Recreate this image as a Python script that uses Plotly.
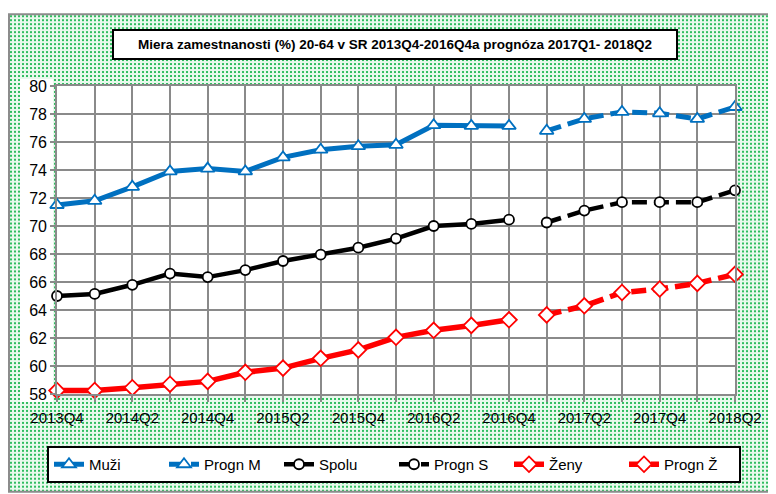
import base64
import plotly.graph_objects as go

# ---------------- data ----------------
quarters = ["2013Q4",
            "2014Q1", "2014Q2", "2014Q3", "2014Q4",
            "2015Q1", "2015Q2", "2015Q3", "2015Q4",
            "2016Q1", "2016Q2", "2016Q3", "2016Q4",
            "2017Q1", "2017Q2", "2017Q3", "2017Q4",
            "2018Q1", "2018Q2"]
hist_q = quarters[:13]
prog_q = quarters[13:]

muzi = [71.5, 71.8, 72.8, 73.9, 74.1, 73.9, 74.9, 75.45, 75.7, 75.8, 77.2, 77.15, 77.15]
progn_m = [76.8, 77.65, 78.15, 78.05, 77.65, 78.5]
spolu = [65.0, 65.15, 65.8, 66.6, 66.35, 66.85, 67.5, 67.95, 68.45, 69.1, 70.0, 70.15, 70.45]
progn_s = [70.25, 71.1, 71.7, 71.7, 71.7, 72.55]
zeny = [58.25, 58.25, 58.45, 58.7, 58.9, 59.55, 59.85, 60.55, 61.15, 62.05, 62.55, 62.9, 63.3]
progn_z = [63.65, 64.3, 65.25, 65.5, 65.9, 66.55]

x_tick_labels = ["2013Q4", "2014Q2", "2014Q4", "2015Q2", "2015Q4",
                 "2016Q2", "2016Q4", "2017Q2", "2017Q4", "2018Q2"]
y_ticks = [58, 60, 62, 64, 66, 68, 70, 72, 74, 76, 78, 80]

title_text = "Miera zamestnanosti (%) 20-64 v SR 2013Q4-2016Q4a prognóza 2017Q1- 2018Q2"

# ---------------- style ----------------
# The page body has an 8px default margin, so the figure is 8px smaller
# on each axis and all page-pixel positions are offset by 8.
OFF = 8
W, H = 776 - OFF, 494 - OFF
PL, PR, PT, PB = 57, 735, 86, 395          # plot area in page pixels
FONT = "Liberation Sans, Arial, sans-serif"
BLUE, BLACK, RED = "#0070C0", "#000000", "#FF0000"
GRID = "#8a8a8a"


def px_x(p):
    return (p - PL) / (PR - PL)


def px_y(p):
    return (PB - p) / (PB - PT)


fig = go.Figure()

series = [
    ("Muži", hist_q, muzi, BLUE, "solid", "triangle-up", 12, 5),
    ("Progn M", prog_q, progn_m, BLUE, "15px,7px", "triangle-up", 12, 5),
    ("Spolu", hist_q, spolu, BLACK, "solid", "circle", 10, 4.5),
    ("Progn S", prog_q, progn_s, BLACK, "15px,7px", "circle", 10, 4.5),
    ("Ženy", hist_q, zeny, RED, "solid", "diamond", 12, 5.5),
    ("Progn Ž", prog_q, progn_z, RED, "15px,7px", "diamond", 12, 5.5),
]
for name, xs, ys, col, dash, sym, msize, lw in series:
    fig.add_trace(go.Scatter(
        x=xs, y=ys, name=name, mode="lines+markers",
        line=dict(color=col, width=lw, dash=dash),
        marker=dict(symbol=sym, size=msize, color="white",
                    line=dict(color=col, width=1.8)),
        cliponaxis=False,
    ))

# dotted green chart-area background (pattern as an inline SVG image)
bx0, by0, bx1, by1 = OFF + 1, 14, 775, 493
svg = (f"<svg xmlns='http://www.w3.org/2000/svg' width='{bx1-bx0}' height='{by1-by0}'>"
       "<defs><pattern id='p' width='4' height='4' patternUnits='userSpaceOnUse'>"
       "<rect width='4' height='4' fill='#e8f9ec'/>"
       "<rect x='1' y='1' width='2' height='2' fill='#30bd60'/>"
       "</pattern></defs><rect width='100%' height='100%' fill='url(#p)'/></svg>")
src = "data:image/svg+xml;base64," + base64.b64encode(svg.encode()).decode()

fig.add_layout_image(dict(
    source=src, xref="paper", yref="paper",
    x=px_x(bx0), y=px_y(by0), sizex=px_x(bx1) - px_x(bx0), sizey=px_y(by0) - px_y(by1),
    xanchor="left", yanchor="top", sizing="stretch", layer="below",
))

shapes = [
    # outer border
    dict(type="rect", xref="paper", yref="paper",
         x0=px_x(bx0), x1=px_x(bx1), y0=px_y(by1), y1=px_y(by0),
         line=dict(color="#8c8c8c", width=2), layer="below"),
    # white plot area
    dict(type="rect", xref="paper", yref="paper", x0=0, x1=1, y0=0, y1=1,
         fillcolor="white", line=dict(width=0), layer="below"),
    # white box behind y tick labels
    dict(type="rect", xref="paper", yref="paper",
         x0=px_x(20), x1=px_x(53), y0=px_y(403), y1=px_y(79),
         fillcolor="white", line=dict(width=0), layer="below"),
]
fig.update_layout(shapes=shapes)

# title box
fig.add_annotation(
    text=f"<b>{title_text}</b>", xref="paper", yref="paper",
    x=px_x(395), y=px_y(44.5), xanchor="center", yanchor="middle",
    showarrow=False, width=562, height=27,
    bgcolor="white", bordercolor="black", borderwidth=2, borderpad=0,
    font=dict(family=FONT, size=13.5, color="black"),
)

tickvals = quarters
ticktext = [q if q in x_tick_labels else "" for q in quarters]

fig.update_xaxes(
    type="category", categoryorder="array", categoryarray=quarters,
    range=[0, len(quarters) - 1],
    tickmode="array", tickvals=tickvals, ticktext=ticktext, tickangle=0,
    showgrid=True, gridcolor=GRID, gridwidth=1.6,
    showline=True, linecolor=GRID, linewidth=1.6, mirror=True,
    ticks="outside", ticklen=6, tickcolor=GRID, tickwidth=1.6,
    ticklabelstandoff=3,
    tickfont=dict(family=FONT, size=15, color="black"),
    zeroline=False,
)
fig.update_yaxes(
    range=[58, 80], tickmode="array", tickvals=y_ticks,
    showgrid=True, gridcolor=GRID, gridwidth=1.6,
    showline=True, linecolor=GRID, linewidth=1.6, mirror=True,
    ticks="outside", ticklen=5, tickcolor=GRID, tickwidth=1.6,
    tickfont=dict(family=FONT, size=16, color="black"),
    zeroline=False,
)

fig.update_layout(
    width=W, height=H,
    margin=dict(l=PL - OFF, r=(W + OFF) - PR, t=PT - OFF, b=(H + OFF) - PB, pad=0),
    paper_bgcolor="white", plot_bgcolor="white",
    font=dict(family=FONT, size=15, color="black"),
    showlegend=True,
    legend=dict(
        orientation="h", x=px_x(47), y=px_y(446), xanchor="left", yanchor="top",
        bgcolor="white", bordercolor="black", borderwidth=2,
        font=dict(family=FONT, size=15, color="black"),
        entrywidth=70, entrywidthmode="pixels", itemwidth=30,
        traceorder="normal", tracegroupgap=0,
    ),
)

fig.write_html("out.html")
